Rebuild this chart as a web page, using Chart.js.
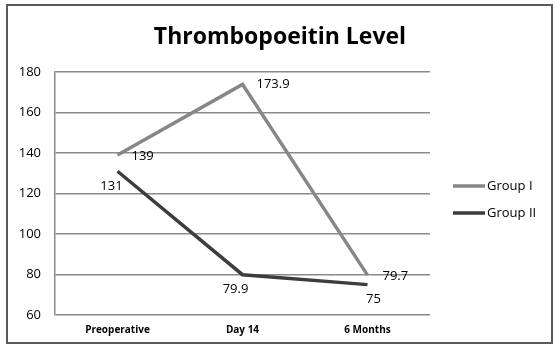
<!DOCTYPE html>
<html>
<head>
<meta charset="utf-8">
<title>Thrombopoeitin Level</title>
<script src="https://cdn.jsdelivr.net/npm/chart.js@4"></script>
<style>
  html, body { margin: 0; padding: 0; background: #fff; }
  #wrap { position: relative; width: 557px; height: 350px; }
</style>
</head>
<body>
<div id="wrap"><canvas id="tpoChart" width="557" height="350"></canvas></div>
<script>
// ─── DATA ──────────────────────────────────────────────────
const chartTitle = 'Thrombopoeitin Level';
const categories = ['Preoperative', 'Day 14', '6 Months'];
const groupOne = [139, 173.9, 79.7];
const groupTwo = [131, 79.9, 75];
const yTicks = [60, 80, 100, 120, 140, 160, 180];

// label nudges (px) relative to each point
const groupOneLabelShift = [[14, 1], [14, 0], [15, 1]];
const groupTwoLabelShift = [[-6, 15], [-7, 15], [6, 15]];

const FONT = '"Open Sans", "Liberation Sans", sans-serif';

// ─── PLUGINS ───────────────────────────────────────────────
const frame = {
  id: 'frame',
  beforeDraw(chart) {
    const c = chart.ctx;
    c.save();
    c.fillStyle = '#fff';
    c.fillRect(0, 0, chart.width, chart.height);
    c.strokeStyle = '#5a5a5a';
    c.lineWidth = 2;
    c.strokeRect(7, 5, 545, 338);
    // title is centred on the whole frame, not on the plot
    c.font = 'bold 23px ' + FONT;
    c.fillStyle = '#000';
    c.textAlign = 'center';
    c.textBaseline = 'middle';
    c.fillText(chartTitle, 280, 37);
    c.restore();
  }
};

const pointLabels = {
  id: 'pointLabels',
  afterDatasetsDraw(chart) {
    const c = chart.ctx;
    c.save();
    c.font = '13px ' + FONT;
    c.fillStyle = '#000';
    chart.data.datasets.forEach((ds, i) => {
      const meta = chart.getDatasetMeta(i);
      meta.data.forEach((pt, j) => {
        const [dx, dy] = ds.labelShift[j];
        c.textAlign = dx > 10 ? 'left' : 'center';
        c.textBaseline = 'middle';
        c.fillText(String(ds.data[j]), pt.x + dx, pt.y + dy);
      });
    });
    c.restore();
  }
};

const sideLegend = {
  id: 'sideLegend',
  afterDraw(chart) {
    const c = chart.ctx;
    c.save();
    c.font = '13px ' + FONT;
    c.textBaseline = 'middle';
    c.textAlign = 'left';
    chart.data.datasets.forEach((ds, i) => {
      const y = 186 + i * 27;
      c.strokeStyle = ds.borderColor;
      c.lineWidth = 3.5;
      c.beginPath();
      c.moveTo(453, y);
      c.lineTo(485, y);
      c.stroke();
      c.fillStyle = '#000';
      c.fillText(ds.label, 487, y);
    });
    c.restore();
  }
};

// ─── CHART ─────────────────────────────────────────────────
new Chart(document.getElementById('tpoChart'), {
  type: 'line',
  data: {
    labels: categories,
    datasets: [
      {
        label: 'Group I',
        data: groupOne,
        borderColor: '#878787',
        borderWidth: 3.5,
        pointRadius: 0,
        tension: 0,
        labelShift: groupOneLabelShift
      },
      {
        label: 'Group II',
        data: groupTwo,
        borderColor: '#3d3d3d',
        borderWidth: 3.5,
        pointRadius: 0,
        tension: 0,
        labelShift: groupTwoLabelShift
      }
    ]
  },
  options: {
    responsive: false,
    animation: false,
    layout: { padding: { left: 7, right: 127, top: 72, bottom: 13 } },
    plugins: {
      legend: { display: false },
      tooltip: { enabled: false },
      title: { display: false }
    },
    scales: {
      x: {
        offset: true,
        grid: { display: false },
        border: { display: false },
        ticks: { color: '#000', font: { family: FONT, size: 10, weight: 'bold' }, padding: 1, maxRotation: 0 }
      },
      y: {
        min: 60,
        max: 180,
        afterFit: s => { s.width = 48; },
        afterBuildTicks: s => { s.ticks = yTicks.map(v => ({ value: v })); },
        grid: { color: '#8a8a8a', lineWidth: 1.5, drawTicks: false },
        border: { display: true, color: '#8a8a8a', width: 1.5 },
        ticks: { color: '#000', font: { family: FONT, size: 13 }, padding: 14 }
      }
    }
  },
  plugins: [frame, pointLabels, sideLegend]
});
</script>
</body>
</html>
